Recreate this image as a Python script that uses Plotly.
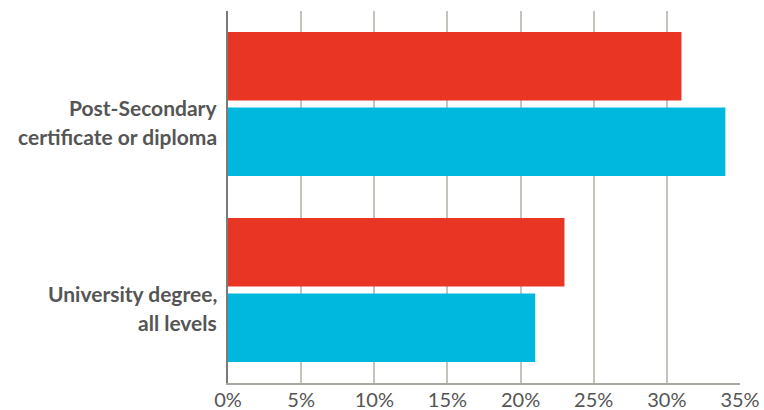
import plotly.graph_objects as go

categories = ["University degree, all levels", "Post-Secondary certificate or diploma"]
label_lines = [["University degree,", "all levels"], ["Post-Secondary", "certificate or diploma"]]
red_values = [23, 31]
cyan_values = [21, 34]
tick_vals = [0, 5, 10, 15, 20, 25, 30, 35]
tick_text = ["0%", "5%", "10%", "15%", "20%", "25%", "30%", "35%"]

fig = go.Figure()
fig.add_trace(go.Bar(y=categories, x=cyan_values, orientation="h",
                     marker=dict(color="#00b8de", line=dict(width=0)), showlegend=False))
fig.add_trace(go.Bar(y=categories, x=red_values, orientation="h",
                     marker=dict(color="#e83524", line=dict(width=0)), showlegend=False))

for cat, lines in zip(categories, label_lines):
    for i, line in enumerate(lines):
        fig.add_annotation(
            x=0, xref="paper", y=cat, yref="y", xanchor="right", yanchor="middle",
            xshift=-9, yshift=-3 - 29 * i, text=line, showarrow=False,
            font=dict(family="Lato", size=21, color="#555555", weight="bold"),
        )

fig.update_layout(
    width=764, height=410,
    margin=dict(l=228, r=24, t=11, b=27),
    barmode="group", bargap=0.19, bargroupgap=0.09,
    plot_bgcolor="white", paper_bgcolor="white",
    font=dict(family="Lato", color="#555555"),
)
fig.update_xaxes(
    range=[0, 35], tickvals=tick_vals, ticktext=tick_text,
    showgrid=True, gridcolor="#c4c4bc", gridwidth=2,
    zeroline=False, showline=True, linecolor="#a8a8a0", linewidth=2,
    tickfont=dict(size=20, color="#555555"), ticklabelstandoff=-2,
    automargin=False,
)
fig.update_yaxes(
    categoryorder="array", categoryarray=categories,
    range=[-0.5, 1.5], showticklabels=False,
    showgrid=False, zeroline=False, showline=True, linecolor="#7a7a76", linewidth=2,
    automargin=False,
)

fig.write_html("out.html")
